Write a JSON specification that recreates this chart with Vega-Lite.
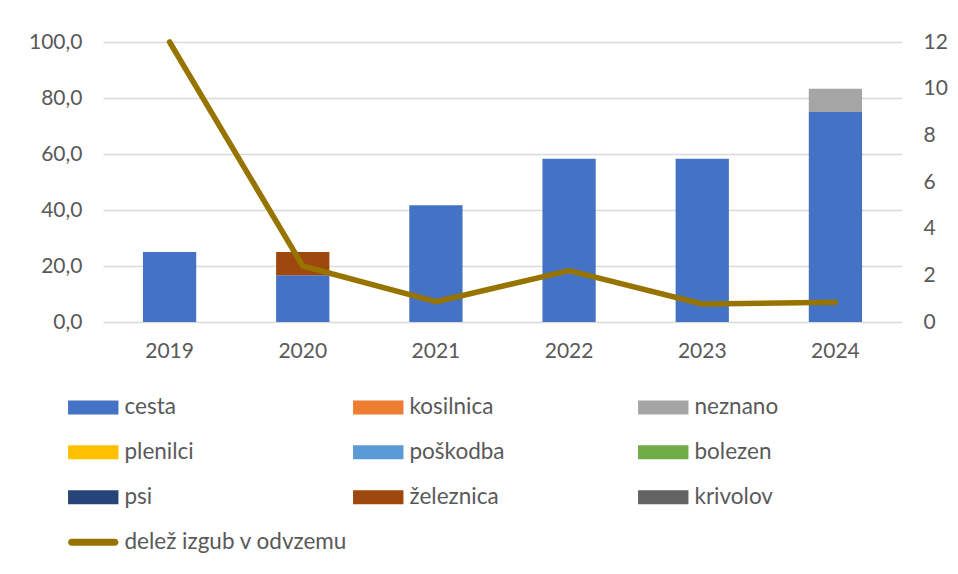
{
  "$schema": "https://vega.github.io/schema/vega-lite/v6.json",
  "width": 799,
  "height": 280,
  "autosize": {"type": "none"},
  "padding": {"left": 103, "top": 42, "right": 56, "bottom": 252},
  "background": "white",
  "config": {
    "font": "Lato",
    "view": {"stroke": null},
    "axis": {
      "labelFont": "Lato",
      "labelFontSize": 21,
      "labelColor": "#595959",
      "domain": false,
      "ticks": false,
      "title": null
    }
  },
  "datasets": {
    "bars": [
      {"year": "2019", "series": "cesta", "idx": 1, "value": 25.0},
      {"year": "2020", "series": "cesta", "idx": 1, "value": 16.7},
      {"year": "2020", "series": "železnica", "idx": 8, "value": 8.3},
      {"year": "2021", "series": "cesta", "idx": 1, "value": 41.7},
      {"year": "2022", "series": "cesta", "idx": 1, "value": 58.3},
      {"year": "2023", "series": "cesta", "idx": 1, "value": 58.3},
      {"year": "2024", "series": "cesta", "idx": 1, "value": 75.0},
      {"year": "2024", "series": "neznano", "idx": 3, "value": 8.3}
    ],
    "share": [
      {"year": "2019", "series": "delež izgub v odvzemu", "share": 12.0},
      {"year": "2020", "series": "delež izgub v odvzemu", "share": 2.4},
      {"year": "2021", "series": "delež izgub v odvzemu", "share": 0.87},
      {"year": "2022", "series": "delež izgub v odvzemu", "share": 2.2},
      {"year": "2023", "series": "delež izgub v odvzemu", "share": 0.77},
      {"year": "2024", "series": "delež izgub v odvzemu", "share": 0.85}
    ]
  },
  "layer": [
    {
      "data": {"name": "bars"},
      "mark": {"type": "bar"},
      "encoding": {
        "x": {
          "field": "year",
          "type": "ordinal",
          "scale": {"paddingInner": 0.6, "paddingOuter": 0.3},
          "axis": {"labelAngle": 0, "labelPadding": 18, "grid": false}
        },
        "y": {
          "field": "value",
          "type": "quantitative",
          "stack": "zero",
          "scale": {"domain": [0, 100], "nice": false},
          "axis": {
            "values": [0, 20, 40, 60, 80, 100],
            "labelExpr": "replace(format(datum.value, '.1f'), '.', ',')",
            "labelPadding": 21,
            "grid": true,
            "gridColor": "#D9D9D9",
            "gridWidth": 1.5
          }
        },
        "color": {
          "field": "series",
          "type": "nominal",
          "scale": {
            "domain": ["cesta", "kosilnica", "neznano", "plenilci", "poškodba", "bolezen", "psi", "železnica", "krivolov", "delež izgub v odvzemu"],
            "range": ["#4472C4", "#ED7D31", "#A5A5A5", "#FFC000", "#5B9BD5", "#70AD47", "#264478", "#9E480E", "#636363", "#977400"]
          },
          "legend": {
            "orient": "none",
            "direction": "horizontal",
            "legendX": -21,
            "legendY": 354,
            "columns": 3,
            "title": null,
            "gridAlign": "all",
            "columnPadding": 5,
            "rowPadding": 22,
            "symbolType": "M-3.6,-1L3.6,-1L3.6,1L-3.6,1Z",
            "symbolSize": 196,
            "symbolStrokeWidth": 0,
            "labelFont": "Lato",
            "labelFontSize": 22.5,
            "labelColor": "#595959",
            "labelOffset": 20,
            "labelLimit": 400,
            "encode": {
              "symbols": {
                "update": {
                  "shape": {"signal": "datum.value === 'delež izgub v odvzemu' ? 'M-3.1,-0.5L3.1,-0.5A0.5,0.5 0 0 1 3.1,0.5L-3.1,0.5A0.5,0.5 0 0 1 -3.1,-0.5Z' : 'M-3.6,-1L3.6,-1L3.6,1L-3.6,1Z'"},
                  "fill": {"signal": "scale('color', datum.value)"},
                  "strokeWidth": {"value": 0}
                }
              }
            }
          }
        },
        "order": {"field": "idx", "type": "quantitative"}
      }
    },
    {
      "data": {"name": "share"},
      "mark": {"type": "line", "strokeWidth": 5.5, "strokeJoin": "round", "strokeCap": "round"},
      "encoding": {
        "x": {"field": "year", "type": "ordinal"},
        "y": {
          "field": "share",
          "type": "quantitative",
          "scale": {"domain": [0, 12], "nice": false},
          "axis": {
            "orient": "right",
            "values": [0, 2, 4, 6, 8, 10, 12],
            "labelPadding": 21,
            "grid": false
          }
        },
        "color": {"field": "series", "type": "nominal"}
      }
    }
  ],
  "resolve": {"scale": {"y": "independent"}}
}
